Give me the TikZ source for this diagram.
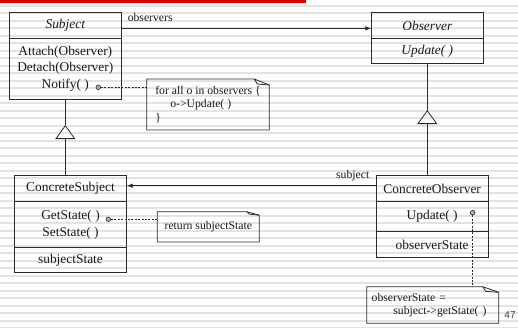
\documentclass[tikz,border=0pt]{standalone}
\usepackage{fontspec}
\setmainfont{Liberation Serif}
\setsansfont{Liberation Sans}
\usetikzlibrary{arrows.meta, positioning}
\definecolor{barred}{HTML}{D40000}
\definecolor{stripegray}{HTML}{E3E3E3}
\definecolor{linedark}{HTML}{2B2B2B}
\definecolor{dotfill}{HTML}{A3B3C6}
\definecolor{textdark}{HTML}{1A1A1A}

\begin{document}
\begin{tikzpicture}[
  x=1pt, y=-1pt,
  every node/.style={text=textdark},
  classbox/.style={
    rectangle, draw=linedark, line width=0.9pt,
    minimum width=112pt, inner sep=0pt, outer sep=0pt,
    align=center,
    font=\fontsize{13.4}{16.7}\selectfont
  },
  classname/.style={
    classbox, font=\fontsize{13.4}{16.7}\selectfont\itshape
  },
  notebox/.style={
    rectangle, inner sep=0pt, outer sep=0pt,
    font=\fontsize{11.7}{13.6}\selectfont
  },
  notefold/.style={
    draw=linedark, line width=0.8pt, line join=miter
  },
  rolelabel/.style={
    font=\fontsize{11.7}{14}\selectfont, inner sep=0pt
  },
  genline/.style={
    draw=linedark, line width=0.8pt
  },
  assoc/.style={
    -{Latex[length=6pt, width=4.5pt]}, draw=linedark, line width=0.8pt
  },
  inherit/.style={
    -{Triangle[open, length=14pt, width=20pt]}, draw=linedark, line width=0.8pt
  },
  noteline/.style={
    draw=linedark, line width=0.8pt, dash pattern=on 2pt off 1.4pt
  },
  anchordot/.style={
    circle, draw=linedark, fill=dotfill, line width=0.6pt,
    minimum size=4.6pt, inner sep=0pt
  }
]

% ── Slide background ──────────────────────────────────────────────────────
\useasboundingbox (0,0) rectangle (518,327);
\fill[white] (0,0) rectangle (518,327);
\foreach \k in {0,...,43}
  \fill[stripegray] (0,{4.5+7.5*\k}) rectangle (518,{6.7+7.5*\k});
\fill[barred] (0,0) rectangle (306,3);

% ── Subject ───────────────────────────────────────────────────────────────
\node[classname, minimum height=25.3pt] (subjhead) at (65.3, 25.35) {Subject};
\node[classbox, minimum height=61.3pt, below=0pt of subjhead]
  (subjops) {Attach(Observer)\\Detach(Observer)\\Notify( )};

% ── Observer ──────────────────────────────────────────────────────────────
\node[classname, minimum height=25.6pt] (obshead) at (427.3, 25.5) {Observer};
\node[classname, minimum height=25pt, below=0pt of obshead]
  (obsops) {Update( )};

% ── ConcreteSubject ───────────────────────────────────────────────────────
\node[classbox, minimum width=112.4pt, minimum height=26pt]
  (csubjhead) at (70.5, 188.7) {ConcreteSubject};
\node[classbox, minimum width=112.4pt, minimum height=46pt, below=0pt of csubjhead]
  (csubjops) {GetState( )\\SetState( )};
\node[classbox, minimum width=112.4pt, minimum height=25pt, below=0pt of csubjops]
  (csubjattr) {subjectState};

% ── ConcreteObserver ──────────────────────────────────────────────────────
\node[classbox, minimum width=112.3pt, minimum height=26pt]
  (cobshead) at (432.2, 188.7) {ConcreteObserver};
\node[classbox, minimum width=112.3pt, minimum height=30pt, below=0pt of cobshead]
  (cobsops) {Update( )};
\node[classbox, minimum width=112.3pt, minimum height=25.6pt, below=0pt of cobsops]
  (cobsattr) {observerState};

% ── Notes ─────────────────────────────────────────────────────────────────
\node[notebox, minimum width=122.6pt, minimum height=51pt, align=left]
  (notifynote) at (208, 104.5) {%
    for all o in observers \{\\
    \hspace{15pt}o->Update( )\\
    \}};

\node[notebox, minimum width=102pt, minimum height=30.3pt]
  (getnote) at (208.3, 226.85) {return subjectState};

\node[notebox, minimum width=132pt, minimum height=36.6pt,
      text width=122pt, align=left]
  (updatenote) at (432.7, 305) {%
    observerState =\\
    \hspace{21.7pt}subject->getState( )};

\foreach \nt/\ew/\eh in {notifynote/15/6, getnote/12.6/3.5, updatenote/16/5.6} {
  \draw[notefold] (\nt.north west) -- ([xshift=-\ew pt]\nt.north east)
    -- ([yshift=-\eh pt]\nt.north east) -- (\nt.south east)
    -- (\nt.south west) -- cycle;
  \draw[notefold] ([xshift=-\ew pt]\nt.north east)
    -- ([xshift=-\ew pt+3pt, yshift=-\eh pt+1pt]\nt.north east)
    -- ([yshift=-\eh pt]\nt.north east);
}

% ── Note anchors ──────────────────────────────────────────────────────────
\node[anchordot] (notifydot) at (98.3, 87.3) {};
\node[anchordot] (getdot) at (108.3, 219.3) {};
\node[anchordot] (updatedot) at (472.7, 212.7) {};

\draw[noteline] (notifydot) -- (notifydot -| notifynote.west);
\draw[noteline] (getdot) -- (getdot -| getnote.west);
\draw[noteline] (updatedot) -- (updatedot |- updatenote.north);

% ── Associations ──────────────────────────────────────────────────────────
\draw[assoc] ([yshift=-3pt]subjhead.east) -- ([yshift=-3pt]subjhead.east -| obshead.west);
\node[rolelabel] (obslabel) at (150.2, 17.3) {observers};

\draw[assoc] ([yshift=3pt]cobshead.west) -- ([yshift=3pt]cobshead.west -| csubjhead.east);
\node[rolelabel] (subjlabel) at (352.7, 176) {subject};

% ── Generalisations ───────────────────────────────────────────────────────
\coordinate (subjtri) at ([yshift=-25.7pt]subjops.south);
\draw[genline] (subjops.south) -- (subjtri);
\draw[inherit] (csubjhead.north -| subjtri) -- (subjtri);

\coordinate (obstri) at ([yshift=-46.7pt]obsops.south);
\draw[genline] (obsops.south) -- (obstri);
\draw[inherit] (cobshead.north -| obstri) -- (obstri);

% ── Page number ───────────────────────────────────────────────────────────
\node[font=\sffamily\fontsize{10}{12}\selectfont, text=black!75]
  (pagenum) at (510, 315) {47};

\end{tikzpicture}
\end{document}
